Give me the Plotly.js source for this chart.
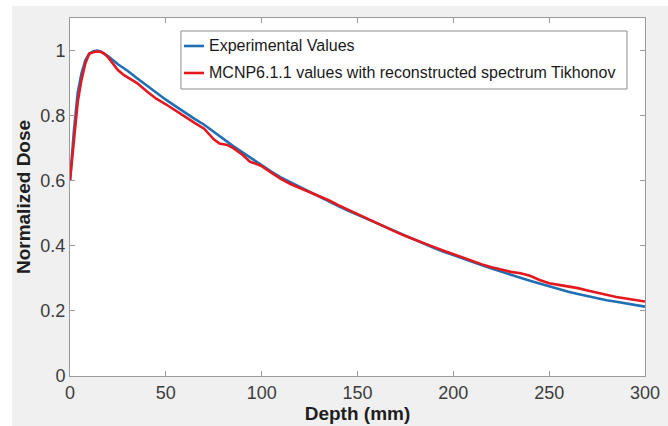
<!DOCTYPE html>
<html>
<head>
<meta charset="utf-8">
<script src="https://cdn.plot.ly/plotly-3.0.1.min.js"></script>
<style>
  html, body { margin: 0; padding: 0; background: #ffffff; width: 668px; height: 426px; overflow: hidden; }
  #chart { position: absolute; left: 12px; top: 6px; width: 656px; height: 420px; }
</style>
</head>
<body>
<div id="chart"></div>
<script>
// Experimental values
const expDepth = [0, 2, 4, 6, 8, 10, 12, 14, 16, 18, 20, 25, 30, 35, 40, 45, 50, 55, 60, 65, 70, 75, 80, 85, 90, 95, 100,
  105, 110, 115, 120, 125, 130, 135, 140, 145, 150, 155, 160, 165, 170, 175, 180, 185, 190, 195, 200,
  205, 210, 215, 220, 225, 230, 235, 240, 245, 250, 255, 260, 265, 270, 275, 280, 285, 290, 295, 300];
const expDose = [0.60, 0.75, 0.87, 0.93, 0.97, 0.99, 0.997, 1.0, 0.997, 0.99, 0.982, 0.958, 0.938, 0.915, 0.893, 0.870, 0.849, 0.829, 0.809, 0.790, 0.772, 0.750, 0.727, 0.707, 0.687, 0.667, 0.647,
  0.628, 0.610, 0.595, 0.580, 0.565, 0.550, 0.536, 0.522, 0.508, 0.495, 0.482, 0.469, 0.456, 0.443, 0.430, 0.417, 0.405, 0.393, 0.382, 0.371,
  0.360, 0.350, 0.340, 0.330, 0.320, 0.311, 0.302, 0.293, 0.284, 0.275, 0.267, 0.259, 0.252, 0.245, 0.239, 0.233, 0.228, 0.223, 0.218, 0.213];

// MCNP6.1.1 values with reconstructed spectrum Tikhonov
const mcnpDepth = [0, 2, 4, 5, 6, 8, 10, 12, 14, 16, 18, 20, 22, 25, 28, 30, 35, 40, 45, 50, 55, 60, 65, 70, 75, 78, 82, 85, 90, 94, 97, 100,
  105, 110, 115, 120, 125, 130, 135, 140, 145, 150, 155, 160, 165, 170, 175, 180, 185, 190, 195, 200,
  205, 210, 215, 220, 225, 230, 235, 240, 245, 250, 255, 260, 265, 270, 275, 280, 285, 290, 295, 300];
const mcnpDose = [0.60, 0.72, 0.84, 0.876, 0.91, 0.96, 0.99, 0.995, 0.997, 0.996, 0.99, 0.978, 0.962, 0.940, 0.925, 0.918, 0.900, 0.875, 0.852, 0.835, 0.815, 0.797, 0.778, 0.760, 0.727, 0.714, 0.710, 0.701, 0.680, 0.658, 0.652, 0.645,
  0.625, 0.606, 0.590, 0.578, 0.565, 0.553, 0.540, 0.525, 0.511, 0.497, 0.485, 0.470, 0.456, 0.443, 0.430, 0.418, 0.407, 0.396, 0.385, 0.374,
  0.364, 0.352, 0.343, 0.334, 0.326, 0.320, 0.316, 0.308, 0.295, 0.285, 0.280, 0.276, 0.270, 0.263, 0.256, 0.249, 0.243, 0.238, 0.233, 0.229];

const seriesNames = ['Experimental Values', 'MCNP6.1.1 values with reconstructed spectrum Tikhonov'];
const seriesColors = ['#1f6fb4', '#e3191f'];

const xTicks = [0, 50, 100, 150, 200, 250, 300];
const yTicks = [0, 0.2, 0.4, 0.6, 0.8, 1];
const yTickText = ['0', '0.2', '0.4', '0.6', '0.8', '1'];

const FONT = '"Liberation Sans", Arial, Helvetica, sans-serif';

const traces = [
  {
    x: expDepth, y: expDose, type: 'scatter', mode: 'lines',
    name: seriesNames[0], showlegend: false,
    line: { color: seriesColors[0], width: 2.6 }
  },
  {
    x: mcnpDepth, y: mcnpDose, type: 'scatter', mode: 'lines',
    name: seriesNames[1], showlegend: false,
    line: { color: seriesColors[1], width: 2.6 }
  }
];

// Legend box (drawn in paper coordinates of the plot area)
const legBox = { x0: 0.193, x1: 0.9687, y0: 0.8017, y1: 0.9637 };
const legRowsY = [0.9218, 0.8464];
const legLineX = [0.1983, 0.2330];
const legTextX = 0.2383;

const shapes = [
  { type: 'rect', xref: 'paper', yref: 'paper', x0: legBox.x0, x1: legBox.x1, y0: legBox.y0, y1: legBox.y1,
    fillcolor: '#ffffff', line: { color: '#8c8c8c', width: 1 }, layer: 'above' }
];
const annotations = [];
seriesNames.forEach((n, i) => {
  shapes.push({ type: 'line', xref: 'paper', yref: 'paper', x0: legLineX[0], x1: legLineX[1], y0: legRowsY[i], y1: legRowsY[i],
    line: { color: seriesColors[i], width: 2.6 }, layer: 'above' });
  annotations.push({ xref: 'paper', yref: 'paper', x: legTextX, y: legRowsY[i], xanchor: 'left', yanchor: 'middle',
    text: n, showarrow: false, font: { family: FONT, size: 16, color: '#1a1a1a' } });
});

const axisCommon = {
  showline: true, mirror: 'ticks', linecolor: '#9a9a9a', linewidth: 1,
  ticks: 'inside', ticklen: 5, tickcolor: '#9a9a9a', tickwidth: 1,
  showgrid: false, zeroline: false,
  tickfont: { family: FONT, size: 18, color: '#3c3c3c' }
};

const layout = {
  width: 656, height: 420,
  margin: { l: 58, r: 23, t: 12, b: 50, pad: 0 },
  paper_bgcolor: '#f0f0f0', plot_bgcolor: '#ffffff',
  showlegend: false,
  shapes: shapes,
  annotations: annotations,
  xaxis: Object.assign({}, axisCommon, {
    range: [0, 300], tickvals: xTicks, ticktext: xTicks.map(String),
    title: { text: '<b>Depth (mm)</b>', font: { family: FONT, size: 19, color: '#1e1e1e' }, standoff: 2 }
  }),
  yaxis: Object.assign({}, axisCommon, {
    range: [0, 1.1], tickvals: yTicks, ticktext: yTickText,
    title: { text: '<b>Normalized Dose</b>', font: { family: FONT, size: 19, color: '#1e1e1e' }, standoff: 4 }
  })
};

Plotly.newPlot('chart', traces, layout, { displayModeBar: false, staticPlot: true });
</script>
</body>
</html>
